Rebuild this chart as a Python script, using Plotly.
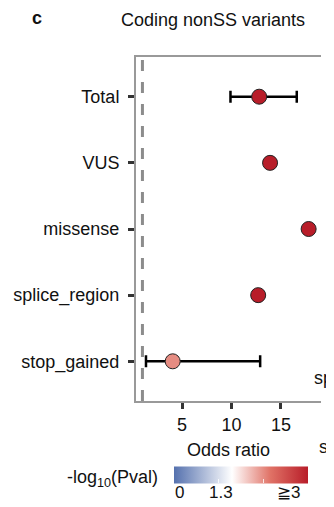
import plotly.graph_objects as go

# ---- data ----
categories = ["Total", "VUS", "missense", "splice_region", "stop_gained"]
odds_ratio = [12.8, 13.9, 17.8, 12.7, 4.06]
ci_upper = [3.8, None, None, None, 8.84]   # distance to upper CI
ci_lower = [2.9, None, None, None, 2.7]    # distance to lower CI
neg_log_p = [3.0, 3.0, 3.0, 3.0, 2.0]
x_ticks = [5, 10, 15]
cbar_labels = ["0", "1.3", "≧3"]

FONT = "Liberation Sans, Arial, sans-serif"
OFF = 8  # browser body margin
W, H = 334 - OFF, 507 - OFF
ML, MR, MT, MB = 136 - OFF, 13, 57 - OFF, 106
PW, PH = W - ML - MR, H - MT - MB
colorscale = [[0, "#5571AE"], [1.3 / 3, "#FFFFFF"], [0.72, "#E07266"], [1, "#B81D29"]]


def px2paper(px, py):
    # px, py are page pixel coordinates
    return (px - OFF - ML) / PW, (H - MB - (py - OFF)) / PH


fig = go.Figure()

cbx, cby = px2paper(241, 476.5)
fig.add_trace(go.Scatter(
    x=odds_ratio, y=categories, mode="markers",
    error_x=dict(type="data", symmetric=False, array=ci_upper, arrayminus=ci_lower,
                 color="black", thickness=2.5, width=6),
    marker=dict(size=15, color=neg_log_p, colorscale=colorscale, cmin=0, cmax=3,
                line=dict(color="#222222", width=1),
                colorbar=dict(orientation="h", lenmode="pixels", len=134, thickness=17,
                              xref="paper", yref="paper", xpad=0, ypad=0,
                              x=cbx, xanchor="center", y=cby, yanchor="middle",
                              outlinewidth=0, showticklabels=False,
                              tickvals=[1, 2], ticks="inside", ticklen=4,
                              tickcolor="rgba(255,255,255,0.8)", tickwidth=1)),
    showlegend=False,
))

fig.add_vline(x=1, line=dict(color="#8C8C8C", width=3, dash="11px,11px"), layer="below")

fig.update_xaxes(range=[0.35, 19.05], tickvals=x_ticks, showgrid=False, zeroline=False,
                 showline=True, linecolor="#999999", linewidth=2, mirror=True,
                 ticks="outside", ticklen=6, tickwidth=2.5, tickcolor="#333333",
                 tickfont=dict(size=18, color="#111111", family=FONT),
                 title=dict(text="Odds ratio", font=dict(size=18, color="#111111", family=FONT),
                            standoff=10))
fig.update_yaxes(categoryorder="array", categoryarray=categories, range=[4.6, -0.6],
                 showgrid=False, zeroline=False, showline=True, linecolor="#999999",
                 linewidth=2, ticks="outside", ticklen=6, tickwidth=2.5, tickcolor="#333333",
                 ticklabelstandoff=5,
                 tickfont=dict(size=18, color="#111111", family=FONT))

specs = [
    ("<b>c</b>", 37, 18, "center", 18),
    ("Coding nonSS variants", 213, 20, "center", 18),
    ("-log<sub>10</sub>(Pval)", 160, 478, "right", 18),
    ("sp", 312, 378, "left", 18),
    ("st", 317, 447, "left", 18),
]
for lab, px in zip(cbar_labels, [179, 221, 288]):
    specs.append((lab, px, 492, "center", 17))

annots = []
for text, px, py, xa, fs in specs:
    ax, ay = px2paper(px, py)
    annots.append(dict(text=text, x=ax, y=ay, xref="paper", yref="paper", xanchor=xa,
                       yanchor="middle", showarrow=False,
                       font=dict(size=fs, family=FONT, color="#111111")))

fig.update_layout(
    width=W, height=H, paper_bgcolor="white", plot_bgcolor="white",
    margin=dict(l=ML, r=MR, t=MT, b=MB, autoexpand=False),
    font=dict(family=FONT, size=18, color="#111111"),
    annotations=annots,
)

fig.write_html("out.html")
